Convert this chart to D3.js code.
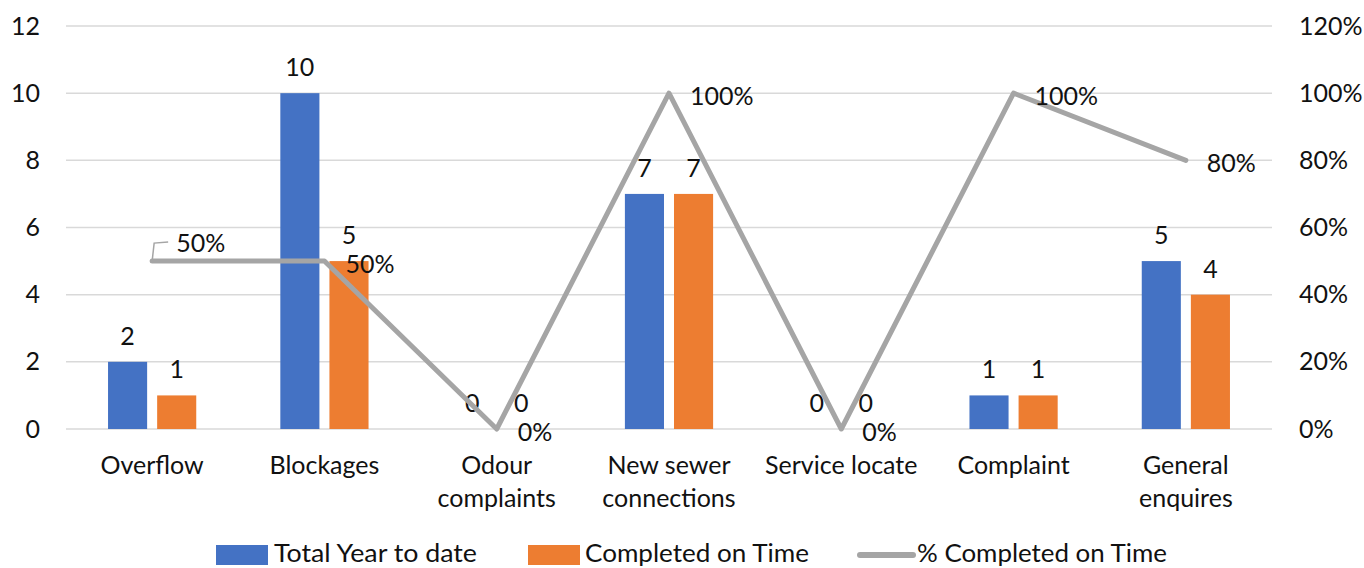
<!DOCTYPE html>
<html>
<head>
<meta charset="utf-8">
<script src="https://cdn.jsdelivr.net/npm/d3@7"></script>
<style>
  html, body { margin: 0; padding: 0; background: #fff; }
  svg { display: block; font-family: Lato, "Open Sans", "Liberation Sans", sans-serif; }
</style>
</head>
<body>
<svg id="chart" width="1364" height="568"></svg>
<script>
// Chart values
const categories = [
  ["Overflow"],
  ["Blockages"],
  ["Odour", "complaints"],
  ["New sewer", "connections"],
  ["Service locate"],
  ["Complaint"],
  ["General", "enquires"]
];
const totalYearToDate = [2, 10, 0, 7, 0, 1, 5];
const completedOnTime = [1, 5, 0, 7, 0, 1, 4];
const pctCompleted = [0.5, 0.5, 0, 1, 0, 1, 0.8];
const leftTicks = [0, 2, 4, 6, 8, 10, 12];
const rightTicks = [0, 0.2, 0.4, 0.6, 0.8, 1.0, 1.2];
const seriesNames = ["Total Year to date", "Completed on Time", "% Completed on Time"];

const colors = { total: "#4472C4", done: "#ED7D31", pct: "#A5A5A5", grid: "#D9D9D9", text: "#111" };
const FS = 25;

const svg = d3.select("#chart");
const plot = { left: 66, right: 1272, top: 26, bottom: 429 };

const x0 = d3.scaleBand().domain(d3.range(categories.length)).range([plot.left, plot.right]).padding(0);
const bw = x0.bandwidth();
const x1 = d3.scaleBand().domain([0, 1]).range([bw * 0.244, bw * 0.756]).paddingInner(0.204).paddingOuter(0);
const y = d3.scaleLinear().domain([0, 12]).range([plot.bottom, plot.top]);
const y2 = d3.scaleLinear().domain([0, 1.2]).range([plot.bottom, plot.top]);

// Gridlines
svg.append("g").selectAll("line").data(leftTicks).join("line")
  .attr("x1", plot.left).attr("x2", plot.right)
  .attr("y1", d => y(d)).attr("y2", d => y(d))
  .attr("stroke", colors.grid).attr("stroke-width", 1.5);

// Left axis labels
const leftAxis = d3.axisLeft(y).tickValues(leftTicks).tickSize(0).tickPadding(0);
const gl = svg.append("g").attr("transform", "translate(40,0)").call(leftAxis);
gl.select(".domain").remove();
gl.selectAll("text").attr("font-size", FS).attr("fill", colors.text).attr("font-family", "Lato, sans-serif");

// Right axis labels
const rightAxis = d3.axisRight(y2).tickValues(rightTicks).tickSize(0).tickPadding(0).tickFormat(d3.format(".0%"));
const gr = svg.append("g").attr("transform", "translate(1299,0)").call(rightAxis);
gr.select(".domain").remove();
gr.selectAll("text").attr("font-size", FS).attr("fill", colors.text).attr("font-family", "Lato, sans-serif");

// Bars
const barSeries = [
  { values: totalYearToDate, color: colors.total },
  { values: completedOnTime, color: colors.done }
];
barSeries.forEach((s, si) => {
  const g = svg.append("g");
  g.selectAll("rect").data(s.values).join("rect")
    .attr("x", (d, i) => x0(i) + x1(si))
    .attr("y", d => y(d))
    .attr("width", x1.bandwidth())
    .attr("height", d => y(0) - y(d))
    .attr("fill", s.color);
  g.selectAll("text").data(s.values).join("text")
    .attr("x", (d, i) => x0(i) + x1(si) + x1.bandwidth() / 2)
    .attr("y", d => y(d) - 27)
    .attr("text-anchor", "middle")
    .attr("dominant-baseline", "central")
    .attr("font-size", FS).attr("fill", colors.text)
    .text(d => d);
});

// Percentage line
const cx = i => x0(i) + bw / 2;
const line = d3.line().x((d, i) => cx(i)).y(d => y2(d));
svg.append("path").datum(pctCompleted)
  .attr("d", line)
  .attr("fill", "none")
  .attr("stroke", colors.pct)
  .attr("stroke-width", 5)
  .attr("stroke-linejoin", "round")
  .attr("stroke-linecap", "round");

// Percentage labels (first one is pulled up-right with a leader line)
const labelShift = (i) => i === 0 ? { dx: 24, dy: -19 } : { dx: 21, dy: 2 };
svg.append("path")
  .attr("d", `M${cx(0)},${y2(pctCompleted[0])} L${cx(0) + 2},${y2(pctCompleted[0]) - 18} L${cx(0) + 16},${y2(pctCompleted[0]) - 19}`)
  .attr("fill", "none").attr("stroke", colors.pct).attr("stroke-width", 1.5);
svg.append("g").selectAll("text").data(pctCompleted).join("text")
  .attr("x", (d, i) => cx(i) + labelShift(i).dx)
  .attr("y", (d, i) => y2(d) + labelShift(i).dy)
  .attr("dominant-baseline", "central")
  .attr("font-size", FS).attr("fill", colors.text)
  .text(d => d3.format(".0%")(d));

// Category labels
const cat = svg.append("g").selectAll("text").data(categories).join("text")
  .attr("x", (d, i) => cx(i))
  .attr("y", 465)
  .attr("text-anchor", "middle")
  .attr("font-size", FS).attr("fill", colors.text);
cat.selectAll("tspan").data(d => d).join("tspan")
  .attr("x", function () { return d3.select(this.parentNode).attr("x"); })
  .attr("dy", (d, j) => j === 0 ? "0.35em" : 33)
  .text(d => d);

// Legend
const legend = svg.append("g");
const legendItems = [
  { name: seriesNames[0], type: "rect", color: colors.total, sx: 216, sw: 52, tx: 274, tw: 203 },
  { name: seriesNames[1], type: "rect", color: colors.done, sx: 528, sw: 52, tx: 585, tw: 224 },
  { name: seriesNames[2], type: "line", color: colors.pct, sx: 860, sw: 53, tx: 917, tw: 250 }
];
legendItems.forEach(it => {
  if (it.type === "rect") {
    legend.append("rect").attr("x", it.sx).attr("y", 545).attr("width", it.sw).attr("height", 20).attr("fill", it.color);
  } else {
    legend.append("line").attr("x1", it.sx).attr("x2", it.sx + it.sw).attr("y1", 555).attr("y2", 555)
      .attr("stroke", it.color).attr("stroke-width", 6).attr("stroke-linecap", "round");
  }
  legend.append("text").attr("x", it.tx).attr("y", 562)
    .attr("font-size", 25).attr("fill", colors.text)
    .attr("textLength", it.tw).attr("lengthAdjust", "spacingAndGlyphs")
    .text(it.name);
});
</script>
</body>
</html>
